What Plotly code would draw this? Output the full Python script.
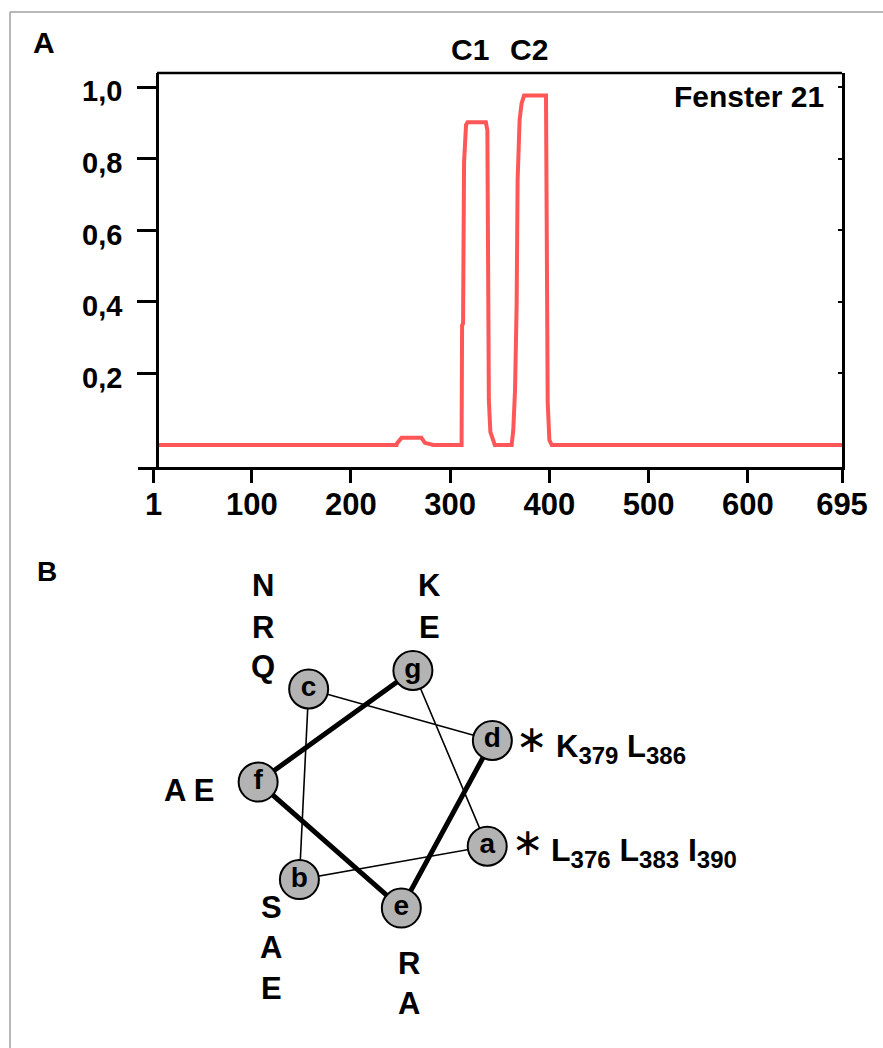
import math
import plotly.graph_objects as go

W, H = 883, 1048
FONT = "Liberation Sans, Arial, sans-serif"
RED = "#ff5757"
GRAY_FILL = "#b3b3b3"

# ---------------- Panel A data ----------------
positions = [5, 246, 246.5, 251, 271, 274.5, 283, 311.5, 312, 313, 314, 316, 317.5, 336,
             337.5, 338, 339, 340.5, 345, 362, 363.6, 365.4, 367, 368, 370, 372, 374.5,
             396.6, 397.3, 398.3, 400, 402.4, 695]
coil_prob = [0, 0, 0.005, 0.02, 0.02, 0.006, 0, 0, 0.335, 0.34, 0.79, 0.895, 0.902, 0.902,
             0.88, 0.5, 0.126, 0.037, 0, 0, 0.042, 0.154, 0.391, 0.741, 0.909, 0.955, 0.977,
             0.977, 0.545, 0.121, 0.014, 0, 0]
x_tick_vals = [1, 100, 200, 300, 400, 500, 600, 695]
x_tick_text = ["1", "100", "200", "300", "400", "500", "600", "695"]
y_tick_vals = [0.2, 0.4, 0.6, 0.8, 1.0]
y_tick_text = ["0,2", "0,4", "0,6", "0,8", "1,0"]

# ---------------- Panel B data ----------------
heptad = ["a", "b", "c", "d", "e", "f", "g"]
thin_path = ["g", "a", "b", "c", "d"]
thick_path = ["d", "e", "f", "g"]


def px_x(p):
    return p / W


def px_y(p):
    return 1 - p / H


def bold(size, color="black"):
    return dict(family=FONT, size=size, color=color, weight="bold")


def sub(t):
    return "<sub><span style='font-size:24px'>" + t + "</span></sub>"


fig = go.Figure()

# Panel A curve
fig.add_trace(go.Scatter(x=positions, y=coil_prob, mode="lines",
                         line=dict(color=RED, width=4), xaxis="x", yaxis="y",
                         showlegend=False, hoverinfo="skip"))
fig.add_trace(go.Scatter(x=[None], y=[None], xaxis="x", yaxis="y2",
                         showlegend=False, hoverinfo="skip"))

# Panel B helical wheel geometry (heptad register -> angle, 720/7 deg per residue)
theta0 = -28.5
ang = {h: math.radians(theta0 - i * 720.0 / 7.0) for i, h in enumerate(heptad)}
hx = {h: math.cos(ang[h]) for h in heptad}
hy = {h: math.sin(ang[h]) for h in heptad}

fig.add_trace(go.Scatter(x=[hx[h] for h in thin_path], y=[hy[h] for h in thin_path],
                         mode="lines", line=dict(color="black", width=1.6),
                         xaxis="x3", yaxis="y3", showlegend=False, hoverinfo="skip"))
fig.add_trace(go.Scatter(x=[hx[h] for h in thick_path], y=[hy[h] for h in thick_path],
                         mode="lines", line=dict(color="black", width=5),
                         xaxis="x3", yaxis="y3", showlegend=False, hoverinfo="skip"))
fig.add_trace(go.Scatter(x=[hx[h] for h in heptad], y=[hy[h] for h in heptad],
                         mode="markers+text", text=heptad, textposition="middle center",
                         textfont=bold(28),
                         marker=dict(size=39, color=GRAY_FILL, line=dict(color="black", width=2)),
                         xaxis="x3", yaxis="y3", showlegend=False, hoverinfo="skip"))

axis_common = dict(showgrid=False, zeroline=False, color="black", automargin=False)

# wheel frame: center at pixel (380, 788), 122 px per unit
cx, cy, s = 380, 788, 122
bx0, bx1, by0, by1 = 100, 800, 540, 1040

fig.update_layout(
    width=W, height=H, autosize=False,
    margin=dict(l=0, r=0, t=0, b=0, pad=0),
    paper_bgcolor="white", plot_bgcolor="rgba(0,0,0,0)",
    font=dict(family=FONT, color="black"),
    xaxis=dict(domain=[px_x(138), px_x(842)], range=[-14.7, 695], anchor="y",
               tickvals=x_tick_vals, ticktext=x_tick_text, ticks="outside", ticklen=13,
               tickwidth=2.5, tickcolor="black", showline=True, linewidth=2.5,
               linecolor="black", tickfont=bold(31), ticklabelstandoff=-5, **axis_common),
    yaxis=dict(domain=[px_y(467), px_y(73)], range=[-0.0615, 1.040], anchor="free",
               position=px_x(157), tickvals=y_tick_vals, ticktext=y_tick_text,
               ticks="outside", ticklen=19, tickwidth=2.5, tickcolor="black",
               showline=True, linewidth=2.5, linecolor="black", tickfont=bold(29),
               ticklabelstandoff=9, ticklabelshift=4, **axis_common),
    yaxis2=dict(overlaying="y", side="right", anchor="x", range=[-0.0615, 1.040],
                tickvals=y_tick_vals, ticks="inside", ticklen=4, tickwidth=1.5,
                tickcolor="black", showticklabels=False, showline=True, linewidth=2.5,
                linecolor="black", **axis_common),
    xaxis3=dict(domain=[px_x(bx0), px_x(bx1)], range=[(bx0 - cx) / s, (bx1 - cx) / s],
                anchor="y3", visible=False, **axis_common),
    yaxis3=dict(domain=[px_y(by1), px_y(by0)], range=[(cy - by1) / s, (cy - by0) / s],
                anchor="x3", visible=False, **axis_common),
)

shapes = [
    dict(type="line", xref="paper", yref="paper", x0=px_x(157), x1=px_x(842),
         y0=px_y(73), y1=px_y(73), line=dict(color="black", width=2.5)),
    dict(type="line", xref="paper", yref="paper", x0=px_x(10), x1=1.01,
         y0=px_y(12), y1=px_y(12), line=dict(color="#a0a0a0", width=1.5)),
    dict(type="line", xref="paper", yref="paper", x0=px_x(10), x1=px_x(10),
         y0=px_y(12), y1=-0.01, line=dict(color="#a0a0a0", width=1.5)),
]
fig.update_layout(shapes=shapes)

labels = [
    ("A", 44, 43, 30, "center"),
    ("B", 47, 571, 28, "center"),
    ("C1", 470, 49, 30, "center"),
    ("C2", 529, 49, 30, "center"),
    ("Fenster 21", 826, 96, 30, "right"),
    ("N", 263, 585, 31, "center"),
    ("R", 263, 627, 31, "center"),
    ("Q", 263, 666, 31, "center"),
    ("K", 429, 585, 31, "center"),
    ("E", 429, 627, 31, "center"),
    ("A E", 189, 790, 31, "center"),
    ("S", 271, 907, 31, "center"),
    ("A", 271, 947, 31, "center"),
    ("E", 271, 988, 31, "center"),
    ("R", 409, 963, 31, "center"),
    ("A", 409, 1003, 31, "center"),
    ("K" + sub("379") + " L" + sub("386"), 554, 749, 31, "left"),
    ("L" + sub("376") + " L" + sub("383") + " I" + sub("390"), 549, 852, 32, "left"),
]
annotations = [
    dict(text=t, x=px_x(x), y=px_y(y), xref="paper", yref="paper", showarrow=False,
         xanchor=xa, yanchor="middle", font=bold(sz))
    for (t, x, y, sz, xa) in labels
]
for (x, y) in [(532, 739), (528, 842)]:
    annotations.append(dict(text="\u2217", x=px_x(x), y=px_y(y), xref="paper", yref="paper",
                            showarrow=False, xanchor="center", yanchor="middle",
                            font=dict(family="DejaVu Sans", size=38, color="black")))
fig.update_layout(annotations=annotations)

fig.write_html("out.html", config={"responsive": False})
